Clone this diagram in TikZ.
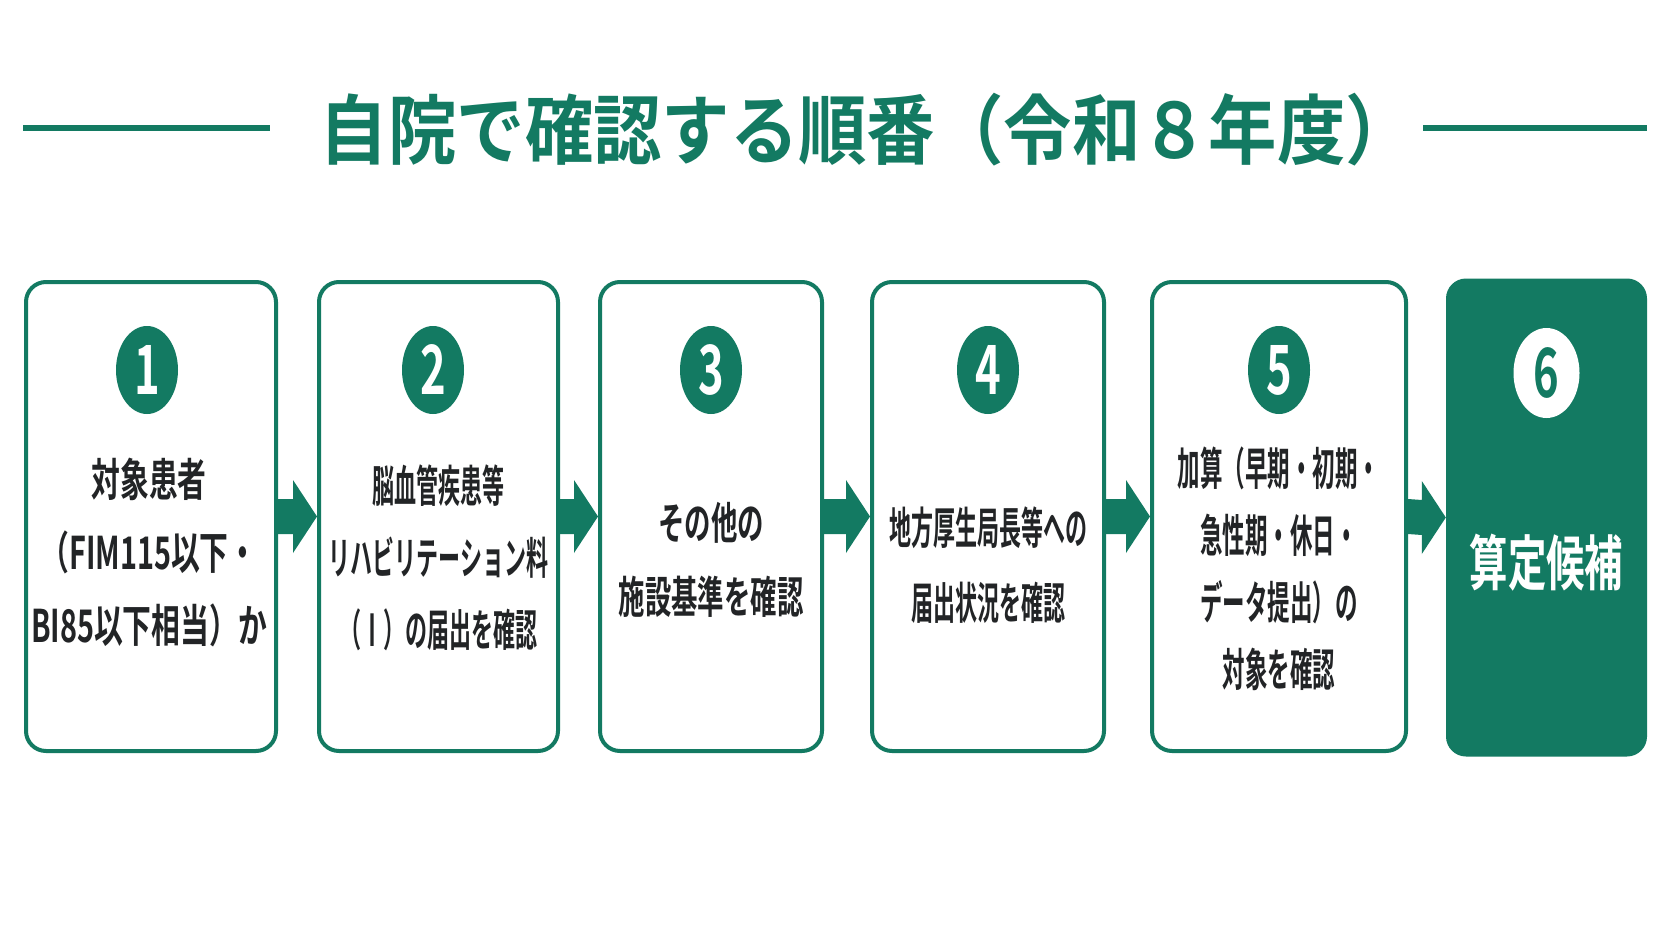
\documentclass[tikz,border=0pt]{standalone}
\usepackage{fontspec}
\usetikzlibrary{calc,shapes.geometric}
\newfontfamily\titleJP{Noto Sans CJK JP}[FakeStretch=0.90,BoldFont={* Bold}]
\newfontfamily\wideJP{Noto Sans CJK JP}[FakeStretch=0.64,BoldFont={* Bold}]
\newfontfamily\midJP{Noto Sans CJK JP}[FakeStretch=0.60,BoldFont={* Bold}]
\newfontfamily\slimJP{Noto Sans CJK JP}[FakeStretch=0.50,BoldFont={* Bold}]
\definecolor{stepgreen}{HTML}{137A62}
\definecolor{stepink}{HTML}{222426}
% block arrow from the right side of one box to the left side of the next
\newcommand\flowarrow[2]{%
  \fill[stepgreen] ($(#1.east)+(0,-17.5)$) -- ($(#2.west)+(-24,-17.5)$) -- ($(#2.west)+(-24,-36.5)$) -- (#2.west) -- ($(#2.west)+(-24,36.5)$) -- ($(#2.west)+(-24,17.5)$) -- ($(#1.east)+(0,17.5)$) -- cycle;}
\begin{document}
\begin{tikzpicture}[x=1pt,y=1pt,yscale=-1,
  stepbox/.style={draw=stepgreen,line width=4pt,rounded corners=20pt,fill=white,inner sep=0pt,minimum height=469pt},
  finalbox/.style={fill=stepgreen,rounded corners=20pt,inner sep=0pt},
  numdot/.style={ellipse,fill=stepgreen,text=white,minimum width=62pt,minimum height=88pt,inner sep=0pt,font=\wideJP\bfseries\fontsize{68}{68}\selectfont},
  steptext/.style={align=center,text=stepink,inner sep=0pt},
  titlerule/.style={draw=stepgreen,line width=6pt}]
\fill[white] (0,0) rectangle (1672,941);
\useasboundingbox (0,0) rectangle (1672,941);
%Title
\node[text=stepgreen,inner sep=0pt,font=\titleJP\bfseries\fontsize{76}{76}\selectfont] (title) at (867,130) {自院で確認する順番（令和８年度）};
\draw[titlerule] (23,128) -- (270,128);
\draw[titlerule] (1423,128) -- (1647,128);
%Boxes
\node[stepbox,minimum width=250pt] (b1) at (151,516.5) {};
\node[stepbox,minimum width=239pt] (b2) at (438.5,516.5) {};
\node[stepbox,minimum width=222pt] (b3) at (711,516.5) {};
\node[stepbox,minimum width=232pt] (b4) at (988,516.5) {};
\node[stepbox,minimum width=254pt] (b5) at (1279,516.5) {};
\node[finalbox,minimum width=201pt,minimum height=478pt] (b6) at (1546.5,517.5) {};
%Arrows
\flowarrow{b1}{b2}
\flowarrow{b2}{b3}
\flowarrow{b3}{b4}
\flowarrow{b4}{b5}
\flowarrow{b5}{b6}
%Numbers
\node[numdot] (n1) at (147,370) {1};
\node[numdot] (n2) at (433,370) {2};
\node[numdot] (n3) at (711,370) {3};
\node[numdot] (n4) at (988,370) {4};
\node[numdot] (n5) at (1279,370) {5};
\node[numdot,fill=white,text=stepgreen,minimum width=66pt,minimum height=90pt] (n6) at (1546.5,373) {6};
% Text Node
\node[steptext,font=\wideJP\bfseries\fontsize{45}{73}\selectfont] (t1) at (149,553) {対象患者\\（FIM115以下・\\BI85以下相当）か};
% Text Node
\node[steptext,font=\slimJP\bfseries\fontsize{44}{72}\selectfont] (t2) at (438.5,558) {脳血管疾患等\\リハビリテーション料\\（Ⅰ）の届出を確認};
% Text Node
\node[steptext,font=\midJP\bfseries\fontsize{44}{74}\selectfont] (t3) at (711,560) {その他の\\施設基準を確認};
% Text Node
\node[steptext,font=\slimJP\bfseries\fontsize{44}{75}\selectfont] (t4) at (988,565) {地方厚生局長等への\\届出状況を確認};
% Text Node
\node[steptext,font=\slimJP\bfseries\fontsize{45}{67}\selectfont] (t5) at (1279,569) {加算（早期・初期・\\急性期・休日・\\データ提出）の\\対象を確認};
% Text Node
\node[steptext,text=white,font=\wideJP\bfseries\fontsize{60}{60}\selectfont] (t6) at (1546.5,563) {算定候補};
\end{tikzpicture}
\end{document}
